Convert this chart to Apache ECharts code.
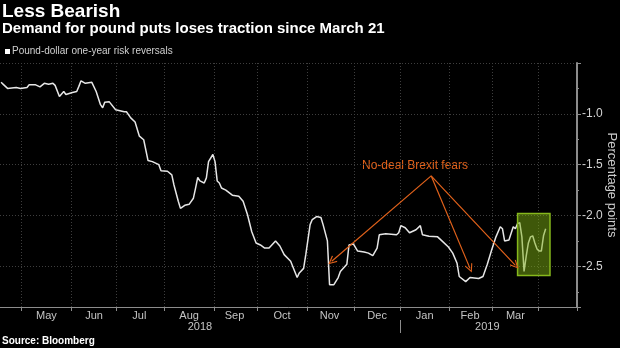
<!DOCTYPE html>
<html><head><meta charset="utf-8">
<script src="https://cdn.jsdelivr.net/npm/echarts@6/dist/echarts.min.js"></script>
<style>html,body{margin:0;padding:0;background:#000;}#c{width:620px;height:348px;}</style>
</head><body><div id="c"></div>
<script>
// ---- axis range (business days) ----
const rangeStart = '2018-04-17';
const rangeEnd = '2019-04-24';
const monthNames = ['Jan','Feb','Mar','Apr','May','Jun','Jul','Aug','Sep','Oct','Nov','Dec'];

const dates2018 = ['2018-04-17','2018-04-18','2018-04-20','2018-04-26','2018-04-30','2018-05-03','2018-05-04','2018-05-09','2018-05-11','2018-05-15','2018-05-17','2018-05-21','2018-05-22','2018-05-24','2018-05-28','2018-05-29','2018-06-01','2018-06-05','2018-06-06','2018-06-07','2018-06-11','2018-06-14','2018-06-18','2018-06-20','2018-06-21','2018-06-22','2018-06-26','2018-06-29','2018-07-05','2018-07-06','2018-07-10','2018-07-12','2018-07-16','2018-07-18','2018-07-20','2018-07-24','2018-07-27','2018-07-30','2018-08-02','2018-08-06','2018-08-07','2018-08-09','2018-08-10','2018-08-14','2018-08-16','2018-08-20','2018-08-21','2018-08-22','2018-08-23','2018-08-27','2018-08-28','2018-08-29','2018-08-31','2018-09-03','2018-09-04','2018-09-05','2018-09-06','2018-09-10','2018-09-13','2018-09-18','2018-09-20','2018-09-24','2018-09-26','2018-09-28','2018-10-02','2018-10-04','2018-10-08','2018-10-11','2018-10-15','2018-10-17','2018-10-22','2018-10-25','2018-10-26','2018-10-30','2018-10-31','2018-11-02','2018-11-05','2018-11-07','2018-11-09','2018-11-12','2018-11-14','2018-11-15','2018-11-19','2018-11-21','2018-11-22','2018-11-27','2018-11-28','2018-11-30','2018-12-04','2018-12-07','2018-12-11','2018-12-13','2018-12-17','2018-12-18','2018-12-21','2018-12-28','2018-12-31'];
const values2018 = [-0.69,-0.71,-0.75,-0.74,-0.75,-0.74,-0.715,-0.715,-0.735,-0.70,-0.71,-0.70,-0.72,-0.83,-0.78,-0.81,-0.79,-0.78,-0.73,-0.675,-0.70,-0.69,-0.78,-0.91,-0.94,-0.885,-0.88,-0.96,-0.98,-0.98,-1.04,-1.08,-1.22,-1.255,-1.46,-1.47,-1.50,-1.56,-1.565,-1.60,-1.70,-1.86,-1.93,-1.90,-1.89,-1.83,-1.73,-1.625,-1.66,-1.68,-1.63,-1.47,-1.40,-1.47,-1.66,-1.68,-1.73,-1.75,-1.80,-1.81,-1.86,-1.99,-2.16,-2.27,-2.29,-2.32,-2.32,-2.25,-2.30,-2.385,-2.45,-2.61,-2.565,-2.52,-2.385,-2.09,-2.04,-2.01,-2.02,-2.09,-2.25,-2.68,-2.68,-2.61,-2.55,-2.48,-2.29,-2.28,-2.35,-2.36,-2.37,-2.395,-2.32,-2.19,-2.18,-2.19,-2.17];
const dates2019 = ['2019-01-01','2019-01-03','2019-01-07','2019-01-10','2019-01-14','2019-01-15','2019-01-18','2019-01-24','2019-01-28','2019-01-31','2019-02-04','2019-02-06','2019-02-07','2019-02-12','2019-02-14','2019-02-20','2019-02-22','2019-02-26','2019-02-28','2019-03-04','2019-03-06','2019-03-07','2019-03-08','2019-03-12','2019-03-14','2019-03-15','2019-03-18','2019-03-19','2019-03-20','2019-03-21','2019-03-22','2019-03-25','2019-03-26','2019-03-27','2019-03-28','2019-03-29','2019-04-01','2019-04-02','2019-04-03','2019-04-04'];
const values2019 = [-2.10,-2.12,-2.17,-2.14,-2.10,-2.19,-2.205,-2.21,-2.25,-2.31,-2.37,-2.47,-2.60,-2.65,-2.61,-2.62,-2.60,-2.48,-2.34,-2.21,-2.11,-2.13,-2.25,-2.24,-2.11,-2.13,-2.08,-2.07,-2.21,-2.55,-2.40,-2.27,-2.21,-2.20,-2.27,-2.33,-2.35,-2.35,-2.20,-2.13];

// ---- annotations ----
const arrowStart = ['2019-01-21', -1.61];
const arrowEnds = [['2018-11-16', -2.45], ['2019-02-14', -2.52], ['2019-03-15', -2.49]];
const boxDates = ['2019-03-18', '2019-04-08'];
const boxValues = [-1.98, -2.59];
const yRange = [-2.9, -0.5];

// ---- business-day categories ----
const categories = [];
for (let d = new Date(rangeStart + 'T00:00:00Z'); d <= new Date(rangeEnd + 'T00:00:00Z'); d.setUTCDate(d.getUTCDate() + 1)) {
  const w = d.getUTCDay();
  if (w !== 0 && w !== 6) categories.push(d.toISOString().slice(0, 10));
}
const idx = d => categories.indexOf(d);
const isMonthStart = i => i > 0 && categories[i].slice(0, 7) !== categories[i - 1].slice(0, 7);
const isYearStart = i => i > 0 && categories[i].slice(0, 4) !== categories[i - 1].slice(0, 4);
function groupMids(keyLen, skipEnds) {
  const g = [];
  categories.forEach((c, i) => {
    const k = c.slice(0, keyLen);
    if (!g.length || g[g.length - 1].k !== k) g.push({ k, a: i, b: i }); else g[g.length - 1].b = i;
  });
  const list = skipEnds ? g.slice(1, -1) : g;
  return new Set(list.map(x => Math.floor((x.a + x.b) / 2)));
}
const monthLabelIdx = groupMids(7, true);
const yearLabelIdx = groupMids(4, false);
const yearStarts = categories.map((c, i) => i).filter(isYearStart);

const obs = dates2018.map((d, i) => [idx(d), values2018[i]])
  .concat(dates2019.map((d, i) => [idx(d), values2019[i]]));

const FONT = '"Liberation Sans", Arial, sans-serif';
const chevron = 'path://M5,0 L10,9 L9,10 L5,2.6 L1,10 L0,9 Z';

const chart = echarts.init(document.getElementById('c'), null, { renderer: 'canvas' });
chart.setOption({
  animation: false,
  backgroundColor: '#000000',
  grid: { left: 0, right: 43, top: 63, bottom: 41, containLabel: false, outerBoundsMode: 'none' },
  xAxis: [{
    type: 'category', data: categories, boundaryGap: true,
    axisLine: { show: true, lineStyle: { color: '#8c8c8c', width: 1 } },
    axisTick: { show: true, interval: (i) => isMonthStart(i), length: 4, lineStyle: { color: '#8c8c8c' } },
    axisLabel: { show: true, interval: (i) => monthLabelIdx.has(i), formatter: v => monthNames[+v.slice(5, 7) - 1],
      color: '#c4c4c4', fontSize: 11, fontFamily: FONT, margin: 3 },
    splitLine: { show: true, interval: (i) => isMonthStart(i), lineStyle: { color: '#3e3e3e', type: [1, 2], width: 1 } }
  }, {
    type: 'category', data: categories, boundaryGap: true, position: 'bottom', offset: 13,
    axisLine: { show: false },
    axisTick: { show: false },
    axisLabel: { show: true, interval: (i) => yearLabelIdx.has(i), formatter: v => v.slice(0, 4),
      color: '#c4c4c4', fontSize: 11, fontFamily: FONT, margin: 1 },
    splitLine: { show: false }
  }],
  yAxis: {
    type: 'value', position: 'right', min: yRange[0], max: yRange[1], splitNumber: 5,
    axisLine: { show: true, lineStyle: { color: '#8c8c8c', width: 2 } },
    axisTick: { show: true, length: 4, lineStyle: { color: '#8c8c8c' } },
    minorTick: { show: true, splitNumber: 2, length: 2, lineStyle: { color: '#8c8c8c' } },
    axisLabel: { showMinLabel: false, showMaxLabel: false, formatter: v => v.toFixed(1),
      color: '#d4d4d4', fontSize: 12, fontFamily: FONT, margin: 5 },
    splitLine: { show: true, lineStyle: { color: '#3e3e3e', type: [1, 2], width: 1 } },
    name: 'Percentage points', nameLocation: 'middle', nameGap: 28, nameRotate: -90, nameMoveOverlap: false,
    nameTextStyle: { color: '#cccccc', fontSize: 13, fontFamily: FONT }
  },
  series: [{
    name: 'Pound-dollar one-year risk reversals', type: 'line', data: obs,
    showSymbol: false, symbol: 'none', z: 2,
    lineStyle: { color: '#e6e6e6', width: 1.5 }, itemStyle: { color: '#ffffff' }
  }, {
    name: 'box', type: 'line', data: [], z: 5,
    markArea: { silent: true, z: 5,
      itemStyle: { color: 'rgba(125,175,20,0.5)', borderColor: '#86b81c', borderWidth: 1.5 },
      data: [[{ xAxis: idx(boxDates[0]), yAxis: boxValues[0] }, { xAxis: idx(boxDates[1]), yAxis: boxValues[1] }]] }
  }, {
    name: 'arrows', type: 'line', data: [], z: 4,
    markLine: { silent: true, symbol: ['none', chevron], symbolSize: [8, 9], label: { show: false },
      lineStyle: { color: '#e2621b', width: 1.2, type: 'solid' },
      data: arrowEnds.map(e => [{ coord: [idx(arrowStart[0]), arrowStart[1]] }, { coord: [idx(e[0]), e[1]] }]) }
  }],
  graphic: [
    { type: 'text', left: 2, top: 2, style: { text: 'Less Bearish', fill: '#ffffff', fontSize: 19, fontWeight: 'bold', fontFamily: FONT } },
    { type: 'text', left: 2, top: 21, style: { text: 'Demand for pound puts loses traction since March 21', fill: '#ffffff', fontSize: 15, fontWeight: 'bold', fontFamily: FONT } },
    { type: 'rect', left: 5, top: 49, shape: { width: 5, height: 5 }, style: { fill: '#ffffff' } },
    { type: 'text', left: 12, top: 46, style: { text: 'Pound-dollar one-year risk reversals', fill: '#d0d0d0', fontSize: 10, fontFamily: FONT } },
    { type: 'text', left: 2, top: 336, style: { text: 'Source: Bloomberg', fill: '#ffffff', fontSize: 10, fontWeight: 'bold', fontFamily: FONT } },
    { type: 'text', left: 362, top: 160, style: { text: 'No-deal Brexit fears', fill: '#e2621b', fontSize: 12, fontFamily: FONT } }
  ]
});

// year separator tick, placed through the axis scale at the boundary before the first business day of each new year
const bandW = chart.convertToPixel({ xAxisIndex: 0 }, 1) - chart.convertToPixel({ xAxisIndex: 0 }, 0);
const axisY = chart.convertToPixel({ yAxisIndex: 0 }, yRange[0]);
chart.setOption({
  graphic: yearStarts.map((i, k) => {
    const x = Math.round(chart.convertToPixel({ xAxisIndex: 0 }, i) - bandW / 2) + 0.5;
    return { id: 'ysep' + k, type: 'line', shape: { x1: x, y1: axisY + 13, x2: x, y2: axisY + 26 }, style: { stroke: '#8c8c8c', lineWidth: 1 } };
  })
});
</script>
</body></html>
